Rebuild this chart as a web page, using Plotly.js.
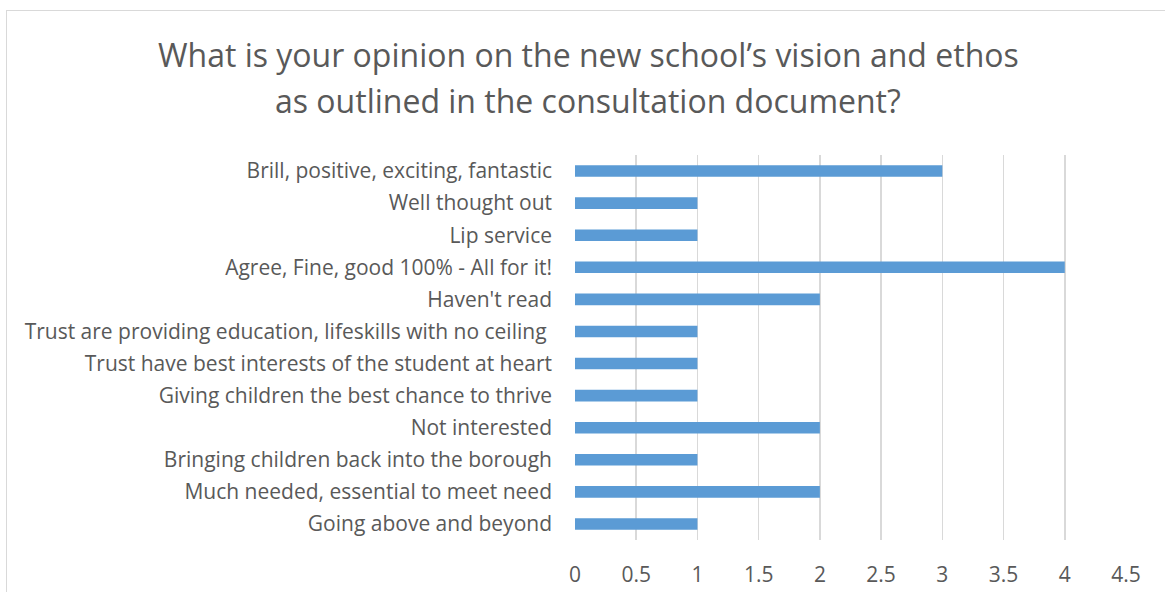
<!DOCTYPE html>
<html>
<head>
<meta charset="utf-8">
<script src="https://cdn.plot.ly/plotly-3.0.1.min.js"></script>
<style>
html,body{margin:0;padding:0;background:#fff;}
#wrap{position:relative;width:1165px;height:592px;overflow:hidden;}
#border{position:absolute;left:6px;top:10px;width:1170px;height:600px;border:1px solid #d9d9d9;box-sizing:border-box;pointer-events:none;}
#chart{position:absolute;left:0;top:0;width:1165px;height:592px;}
</style>
</head>
<body>
<div id="wrap"><div id="chart"></div><div id="border"></div></div>
<script>
const categories = [
  "Going above and beyond",
  "Much needed, essential to meet need",
  "Bringing children back into the borough",
  "Not interested",
  "Giving children the best chance to thrive",
  "Trust have best interests of the student at heart",
  "Trust are providing education, lifeskills with no ceiling ",
  "Haven't read",
  "Agree, Fine, good 100% - All for it!",
  "Lip service",
  "Well thought out",
  "Brill, positive, exciting, fantastic"
];
const values = [1, 2, 1, 2, 1, 1, 1, 2, 4, 1, 1, 3];
const xTicks = [0, 0.5, 1, 1.5, 2, 2.5, 3, 3.5, 4, 4.5];
const xTickLabels = ["0", "0.5", "1", "1.5", "2", "2.5", "3", "3.5", "4", "4.5"];
const titleLines = [
  "What is your opinion on the new school’s vision and ethos",
  "as outlined in the consultation document?"
];

const font = "'Open Sans', sans-serif";
const titleCenters = [55, 101];
Plotly.newPlot('chart', [{
  type: 'bar',
  orientation: 'h',
  y: categories,
  x: values,
  marker: {color: '#5B9BD5'},
  hoverinfo: 'skip'
}], {
  width: 1165, height: 592,
  paper_bgcolor: '#fff', plot_bgcolor: '#fff',
  margin: {l: 575, r: 39, t: 155, b: 52},
  bargap: 0.64,
  showlegend: false,
  annotations: titleLines.map((t, i) => ({
    text: t, xref: 'paper', yref: 'paper',
    x: (588 - 575) / 551, y: 1 + (155 - titleCenters[i]) / 385,
    xanchor: 'center', yanchor: 'middle', align: 'center', showarrow: false,
    font: {family: font, size: 32, color: '#595959'}
  })),
  xaxis: {range: [0, 4.5], tickvals: xTicks, ticktext: xTickLabels,
          showgrid: true, gridcolor: '#d9d9d9', gridwidth: 1.5, zeroline: false,
          showline: false, ticks: '', ticklabelstandoff: 20,
          tickfont: {family: font, size: 21, color: '#595959'}, fixedrange: true},
  yaxis: {type: 'category', categoryorder: 'array', categoryarray: categories,
          showgrid: false, zeroline: false, showline: false, ticks: '',
          ticklabelstandoff: 22, automargin: false,
          tickfont: {family: font, size: 21, color: '#595959'}, fixedrange: true}
}, {staticPlot: true});
</script>
</body>
</html>
